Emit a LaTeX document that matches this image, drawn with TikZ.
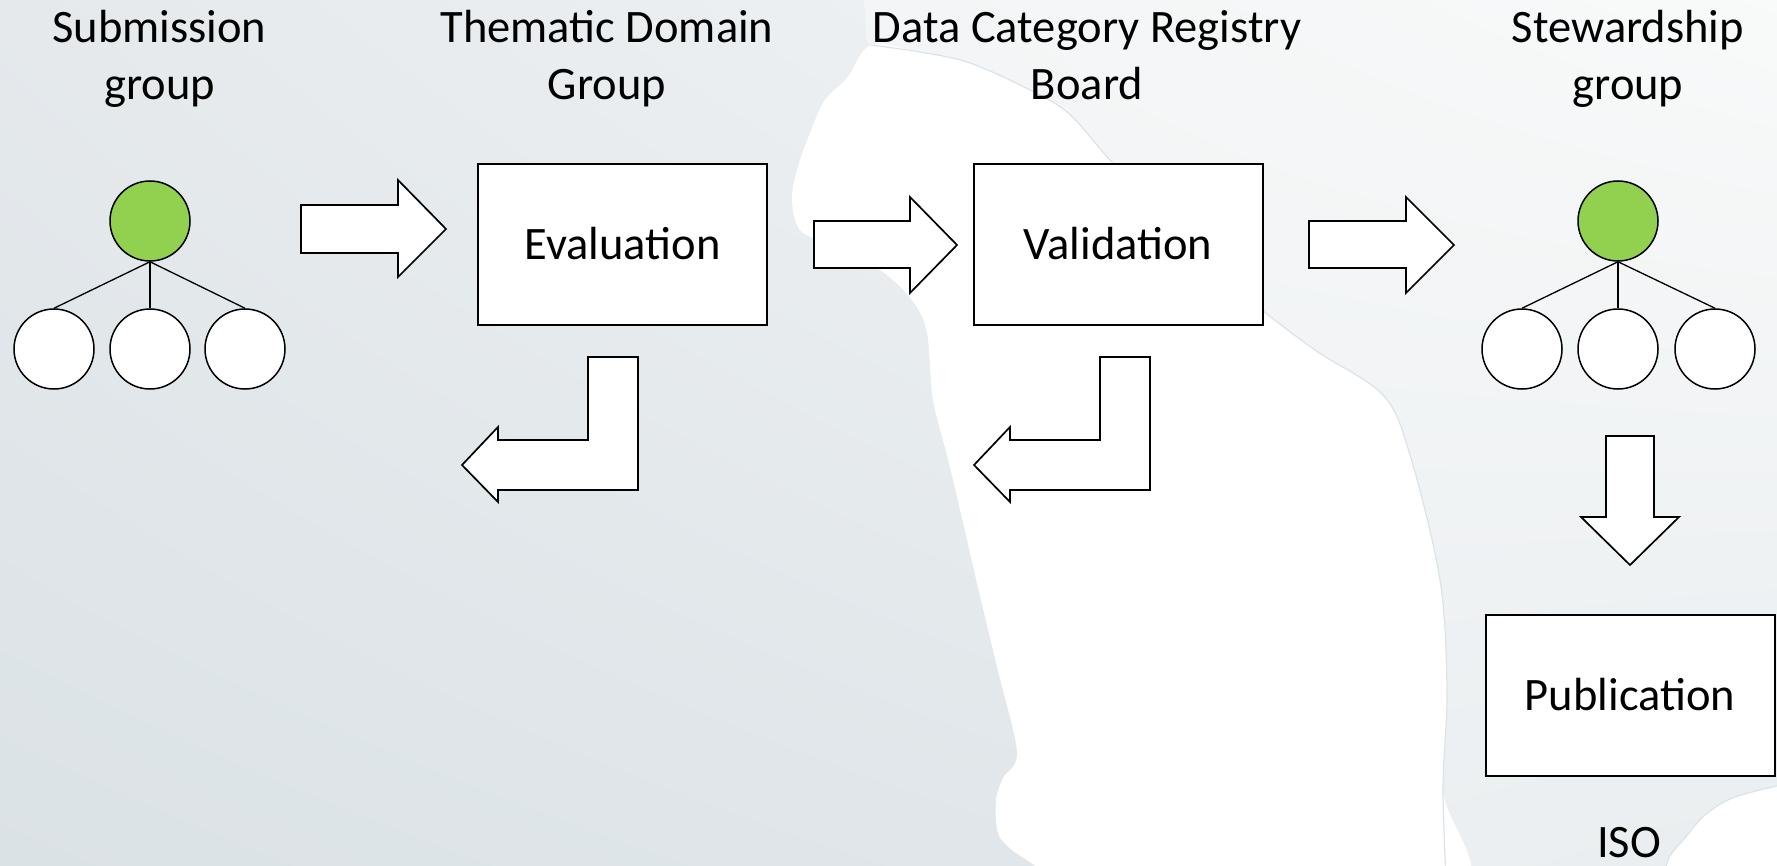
\documentclass[tikz,border=0pt]{standalone}
\usepackage{fontspec}
\setmainfont{Carlito}
\usetikzlibrary{shadings}
\definecolor{leadgreen}{HTML}{92D050}
\definecolor{bgTL}{HTML}{E5E9EC}
\definecolor{bgBL}{HTML}{DBE2E6}
\definecolor{bgTR}{HTML}{F5F7F8}
\definecolor{bgBR}{HTML}{E4E9EC}
\definecolor{rTL}{HTML}{F3F5F6}
\definecolor{rTR}{HTML}{F9FAFA}
\definecolor{rBL}{HTML}{EEF1F3}
\definecolor{rBR}{HTML}{E9EDEF}
\definecolor{edgecol}{HTML}{DCE3E8}
\begin{document}
\begin{tikzpicture}[x=0.5pt,y=-0.5pt,
  txt/.style={font=\fontsize{23.25pt}{28.5pt}\selectfont},
  lbl/.style={txt, align=center, inner sep=0pt, anchor=base},
  procbox/.style={txt, draw=black, line width=1pt, fill=white, minimum width=144.5pt, minimum height=80.5pt, inner sep=0pt, text height=15pt, text depth=0pt},
  member/.style={circle, draw=black, line width=0.75pt, fill=white, minimum size=40pt, inner sep=0pt},
  lead/.style={member, fill=leadgreen},
  treeline/.style={draw=black, line width=0.65pt},
  blockarrow/.style={draw=black, line width=0.85pt, fill=white, line join=miter},
  faint/.style={draw=edgecol, line width=0.6pt}
]
\useasboundingbox (0,0) rectangle (1777,866);
\clip (0,0) rectangle (1777,866);
% background
\shade[upper left=bgTL, upper right=bgTR, lower left=bgBL, lower right=bgBR] (0,0) rectangle (1777,866);
% lighter right region
\shade[upper left=rTL, upper right=rTR, lower left=rBL, lower right=rBR]
 plot[smooth, tension=0.55] coordinates {(863,-10) (866,20) (871,45) (920,52) (967,62) (1020,85) (1067,112) (1110,160) (1180,235) (1250,300)
 (1315,350) (1383,395) (1410,455) (1440,580) (1447,690) (1443,790) (1447,900)} -- (1790,900) -- (1790,-10) -- cycle;
% head silhouette
\fill[white] plot[smooth cycle, tension=0.55] coordinates {
 (871,45) (920,52) (967,62) (1020,85) (1067,112) (1110,160) (1180,235) (1250,300)
 (1315,350) (1383,395) (1410,455) (1440,580) (1447,690) (1443,790) (1447,900)
 (1060,900) (1040,870) (1012,850) (998,833) (996,800) (1003,778) (1017,752) (997,667)
 (977,583) (950,467) (933,400) (927,333) (912,300) (880,270) (830,245) (800,230)
 (792,200) (797,170) (810,133) (825,100) (847,78)};
\draw[faint] plot[smooth, tension=0.55] coordinates {(871,45) (920,52) (967,62) (1020,85) (1067,112) (1110,160) (1180,235) (1250,300)
 (1315,350) (1383,395) (1410,455) (1440,580) (1447,690) (1443,790) (1447,900)};
\fill[white] plot[smooth, tension=0.55] coordinates {
 (1660,900) (1668,860) (1685,838) (1705,815) (1735,797) (1790,783)} -- (1790,900) -- cycle;
\draw[faint] plot[smooth, tension=0.55] coordinates {
 (1660,900) (1668,860) (1685,838) (1705,815) (1735,797) (1790,783)};

% headers
\node[lbl] (hsub) at (159.5,100) {Submission\\group};
\node[lbl] (htdg) at (607,100) {Thematic Domain\\Group};
\node[lbl] (hdcr) at (1087,100) {Data Category Registry\\Board};
\node[lbl] (hstw) at (1628,100) {Stewardship\\group};

% process boxes
\node[procbox] (eval) at (622.5,244.5) {Evaluation};
\node[procbox] (valid) at (1118,244.5) {Validation};
\node[procbox] (pub) at (1630,695.5) {Publication};
\node[lbl] (iso) at (1629,857) {ISO};

% submission tree
\node[lead] (sp) at (150,221) {};
\node[member] (sc1) at (54,349) {};
\node[member] (sc2) at (150,349) {};
\node[member] (sc3) at (245,349) {};
\draw[treeline] (sp.south) -- (sc1.north);
\draw[treeline] (sp.south) -- (sc2.north);
\draw[treeline] (sp.south) -- (sc3.north);

% stewardship tree
\node[lead] (tp) at (1618,221) {};
\node[member] (tc1) at (1522,349) {};
\node[member] (tc2) at (1618,349) {};
\node[member] (tc3) at (1715,349) {};
\draw[treeline] (tp.south) -- (tc1.north);
\draw[treeline] (tp.south) -- (tc2.north);
\draw[treeline] (tp.south) -- (tc3.north);

% block arrows
\draw[blockarrow] (301,205) -- (398,205) -- (398,180) -- (446,229) -- (398,277) -- (398,253) -- (301,253) -- cycle;
\draw[blockarrow] (814,221) -- (910,221) -- (910,197) -- (957,245) -- (910,293) -- (910,268) -- (814,268) -- cycle;
\draw[blockarrow] (1309,221) -- (1406,221) -- (1406,197) -- (1454,245) -- (1406,293) -- (1406,268) -- (1309,268) -- cycle;
% bent return arrows
\draw[blockarrow] (588,357) -- (638,357) -- (638,490) -- (498,490) -- (498,502) -- (462,465) -- (498,427) -- (498,440) -- (588,440) -- cycle;
\draw[blockarrow] (1100,357) -- (1150,357) -- (1150,490) -- (1010,490) -- (1010,502) -- (974,465) -- (1010,427) -- (1010,440) -- (1100,440) -- cycle;
% down arrow
\draw[blockarrow] (1606,436) -- (1654,436) -- (1654,517) -- (1679,517) -- (1630,565) -- (1581,517) -- (1606,517) -- cycle;
\end{tikzpicture}
\end{document}
